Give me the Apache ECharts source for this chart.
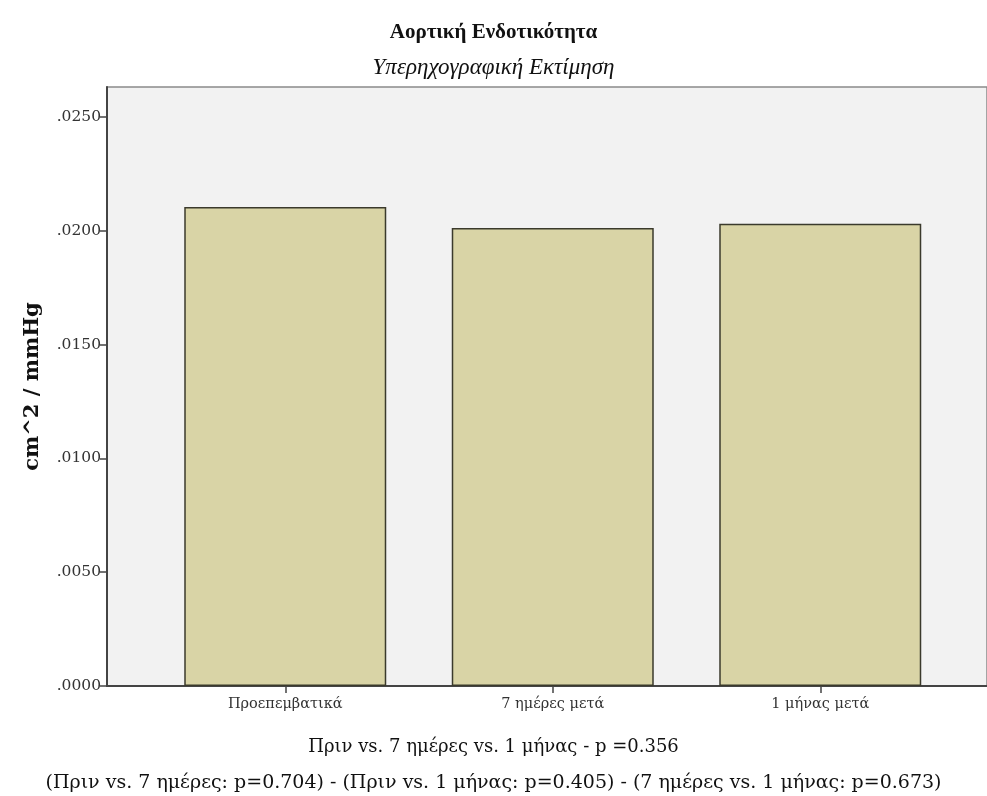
<!DOCTYPE html>
<html>
<head>
<meta charset="utf-8">
<script src="https://cdn.jsdelivr.net/npm/echarts@6/dist/echarts.min.js"></script>
<style>
  html, body { margin: 0; padding: 0; background: #fff; }
  #chart { width: 987px; height: 796px; }
</style>
</head>
<body>
<div id="chart"></div>
<script>
// Aortic compliance, echo estimate: mean per time point
const categories = ['Προεπεμβατικά', '7 ημέρες μετά', '1 μήνας μετά'];
const values = [0.02105, 0.02012, 0.02031];
const yTicks = { min: 0, max: 0.02632, interval: 0.005 };

const titleText = 'Αορτική Ενδοτικότητα';
const subtitleText = 'Υπερηχογραφική Εκτίμηση';
const yName = 'cm^2 / mmHg';
const noteLine1 = 'Πριν vs. 7 ημέρες vs. 1 μήνας - p =0.356';
const noteLine2 = '(Πριν vs. 7 ημέρες: p=0.704) - (Πριν vs. 1 μήνας: p=0.405) - (7 ημέρες vs. 1 μήνας: p=0.673)';

const narrowSerif = '"Liberation Serif", serif';
const wideSerif = '"DejaVu Serif", serif';
const plotTop = 87, plotBottom = 110;

const chart = echarts.init(document.getElementById('chart'), null, { renderer: 'canvas' });

chart.setOption({
  animation: false,
  backgroundColor: '#ffffff',
  title: [
    { text: titleText, left: 'center', top: 17,
      textStyle: { fontFamily: narrowSerif, fontWeight: 'bold', fontSize: 21, color: '#111' } },
    { text: subtitleText, left: 'center', top: 51,
      textStyle: { fontFamily: narrowSerif, fontStyle: 'italic', fontWeight: 'normal', fontSize: 23, color: '#111' } },
    { text: noteLine1, left: 'center', top: 733,
      textStyle: { fontFamily: wideSerif, fontWeight: 'normal', fontSize: 18, color: '#111' } },
    { text: noteLine2, left: 'center', top: 769,
      textStyle: { fontFamily: wideSerif, fontWeight: 'normal', fontSize: 19, color: '#111' } }
  ],
  grid: [
    { left: 107, right: 0, top: plotTop, bottom: plotBottom, show: true,
      backgroundColor: '#f2f2f2', borderColor: '#8a8a8a', borderWidth: 1.5 },
    { left: 151.5, width: 802.5, top: plotTop, bottom: plotBottom }
  ],
  xAxis: [
    { gridIndex: 0, type: 'value', min: 0, max: 1,
      axisLine: { show: true, onZero: false, lineStyle: { color: '#444', width: 2 } },
      axisTick: { show: false }, axisLabel: { show: false }, splitLine: { show: false } },
    { gridIndex: 1, type: 'category', data: categories,
      axisLine: { show: false },
      axisTick: { show: true, alignWithLabel: true, length: 7, lineStyle: { color: '#444', width: 1.5 } },
      axisLabel: { fontFamily: wideSerif, fontSize: 14.5, color: '#333', margin: 11 } }
  ],
  yAxis: [
    { gridIndex: 0, type: 'value', min: yTicks.min, max: yTicks.max, interval: yTicks.interval,
      name: yName, nameLocation: 'middle', nameGap: 64, nameRotate: 90,
      nameTextStyle: { fontFamily: wideSerif, fontWeight: 'bold', fontSize: 21, color: '#111' },
      axisLine: { show: true, lineStyle: { color: '#444', width: 2 } },
      axisTick: { show: true, length: 7, lineStyle: { color: '#444', width: 1.5 } },
      axisLabel: { fontFamily: wideSerif, fontSize: 15.5, color: '#333', margin: 6, showMaxLabel: false,
        formatter: v => v.toFixed(4).replace(/^0/, '') },
      splitLine: { show: false } },
    { gridIndex: 1, type: 'value', min: yTicks.min, max: yTicks.max, show: false }
  ],
  series: [{
    type: 'bar',
    xAxisIndex: 1, yAxisIndex: 1,
    data: values,
    barWidth: 202,
    itemStyle: { color: '#d9d4a6', borderColor: '#3b3a2c', borderWidth: 1.5 }
  }]
});
</script>
</body>
</html>
